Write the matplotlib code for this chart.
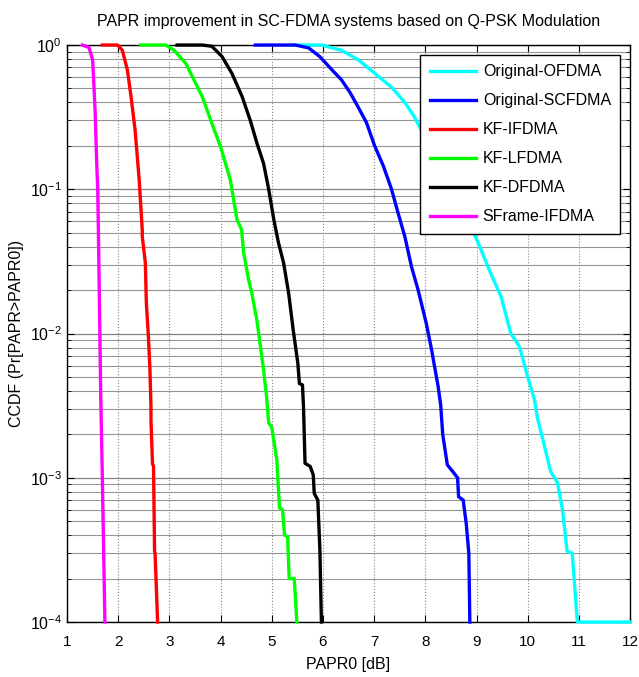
import matplotlib
matplotlib.use("Agg")
import matplotlib.pyplot as plt
import numpy as np

plt.rcParams['font.family'] = ['Liberation Sans', 'DejaVu Sans']
plt.rcParams['mathtext.default'] = 'regular'

# CCDF curves (x in dB, y = Pr[PAPR>PAPR0])
sframe_x = [1.30, 1.43, 1.50, 1.52, 1.55, 1.58, 1.60, 1.61, 1.66, 1.69, 1.74]
sframe_y = [1.0, 0.96, 0.79, 0.57, 0.34, 0.152, 0.10, 0.06, 3.5e-3, 1.0e-3, 1e-4]

kfi_x = [1.69, 1.99, 2.08, 2.18, 2.25, 2.33, 2.41, 2.47, 2.47, 2.53, 2.55, 2.59,
         2.62, 2.64, 2.64, 2.67, 2.69, 2.71, 2.72, 2.77]
kfi_y = [1.0, 1.0, 0.92, 0.67, 0.44, 0.257, 0.116, 0.052, 0.047, 0.031, 0.0162,
         0.0095, 0.0056, 0.0031, 0.0025, 0.00125, 0.0012, 0.00031, 0.0003, 1e-4]

kfl_x = [2.44, 2.93, 3.09, 3.32, 3.64, 3.83, 4.00, 4.19, 4.32, 4.41, 4.45, 4.55,
         4.61, 4.71, 4.78, 4.84, 4.90, 4.94, 5.00, 5.10, 5.15, 5.21, 5.25, 5.31,
         5.34, 5.44, 5.49]
kfl_y = [1.0, 1.0, 0.92, 0.746, 0.44, 0.286, 0.197, 0.116, 0.0617, 0.0525, 0.0363,
         0.0234, 0.019, 0.0123, 0.0081, 0.0056, 0.0036, 0.0024, 0.00224, 0.00132,
         0.00062, 0.0006, 0.0004, 0.00039, 0.0002, 0.0002, 1e-4]

kfd_x = [3.15, 3.64, 3.83, 4.03, 4.22, 4.42, 4.58, 4.71, 4.84, 4.94, 5.04, 5.13,
         5.23, 5.33, 5.42, 5.51, 5.54, 5.60, 5.62, 5.65, 5.75, 5.81, 5.83, 5.90,
         5.94, 5.97]
kfd_y = [1.0, 1.0, 0.98, 0.83, 0.637, 0.44, 0.30, 0.209, 0.151, 0.10, 0.0617,
         0.0427, 0.031, 0.019, 0.0105, 0.0062, 0.0045, 0.0044, 0.0031, 0.00126,
         0.0012, 0.00105, 0.00078, 0.0007, 0.00032, 1e-4]

scfdma_x = [4.68, 5.46, 5.72, 5.94, 6.17, 6.36, 6.53, 6.69, 6.85, 7.01, 7.18, 7.34,
            7.47, 7.60, 7.73, 7.86, 8.02, 8.12, 8.25, 8.30, 8.34, 8.43, 8.54, 8.63,
            8.65, 8.74, 8.80, 8.85, 8.87]
scfdma_y = [1.0, 1.0, 0.955, 0.83, 0.676, 0.575, 0.468, 0.37, 0.29, 0.20, 0.145,
            0.10, 0.068, 0.047, 0.029, 0.020, 0.0117, 0.0078, 0.0043, 0.0032, 0.002,
            0.00123, 0.0011, 0.001, 0.00074, 0.0007, 0.00048, 0.0003, 1e-4]

ofdma_x = [5.40, 5.97, 6.36, 6.69, 7.01, 7.34, 7.60, 7.79, 7.95, 8.99, 9.09, 9.28,
           9.48, 9.67, 9.84, 10.00, 10.13, 10.19, 10.32, 10.45, 10.58, 10.68, 10.77,
           10.87, 10.97, 12.0]
ofdma_y = [1.0, 1.0, 0.92, 0.79, 0.637, 0.51, 0.40, 0.316, 0.245, 0.046, 0.038,
           0.026, 0.018, 0.010, 0.0081, 0.005, 0.0035, 0.0026, 0.0017, 0.0011,
           0.00093, 0.0006, 0.00031, 0.0003, 1e-4, 1e-4]

series = [
    ("Original-OFDMA", ofdma_x, ofdma_y, (0, 1, 1)),
    ("Original-SCFDMA", scfdma_x, scfdma_y, (0, 0, 1)),
    ("KF-IFDMA", kfi_x, kfi_y, (1, 0, 0)),
    ("KF-LFDMA", kfl_x, kfl_y, (0, 1, 0)),
    ("KF-DFDMA", kfd_x, kfd_y, (0, 0, 0)),
    ("SFrame-IFDMA", sframe_x, sframe_y, (1, 0, 1)),
]

fig = plt.figure(figsize=(6.39, 6.77), dpi=100)
ax = fig.add_axes([0.1049, 0.0812, 0.8811, 0.8523])

for name, xs, ys, col in series:
    ax.semilogy(xs, ys, color=col, lw=2.4, label=name, clip_on=False, zorder=3)

ax.set_xlim(1, 12)
ax.set_ylim(1e-4, 1)
ax.set_xticks(np.arange(1, 13))

ax.grid(True, which='major', axis='x', color='#888888', ls=':', lw=0.8)
ax.grid(True, which='major', axis='y', color='#808080', ls='-', lw=0.9)
ax.grid(True, which='minor', axis='y', color='#959595', ls='-', lw=0.8)

ax.tick_params(which='both', direction='in', top=True, right=True, labelsize=11.5)
ax.tick_params(axis='x', which='major', pad=9, labelsize=11)
ax.tick_params(which='major', length=5)
ax.tick_params(which='minor', length=3)
for s in ax.spines.values():
    s.set_linewidth(1.0)

ax.set_title("PAPR improvement in SC-FDMA systems based on Q-PSK Modulation",
             fontsize=11.5, pad=14)
ax.set_xlabel("PAPR0 [dB]", fontsize=11.5, labelpad=6)
ax.set_ylabel("CCDF (Pr[PAPR>PAPR0])", fontsize=11.5)
ax.yaxis.set_label_coords(-0.076, 0.5)

leg = ax.legend(loc='upper right', fontsize=11.5, handlelength=2.9,
                handletextpad=0.4, borderpad=0.6, fancybox=False, framealpha=1,
                edgecolor='black', borderaxespad=0.6, labelspacing=0.88)
leg.get_frame().set_linewidth(1.0)
leg.set_zorder(5)

fig.savefig("out.png", dpi=100)
